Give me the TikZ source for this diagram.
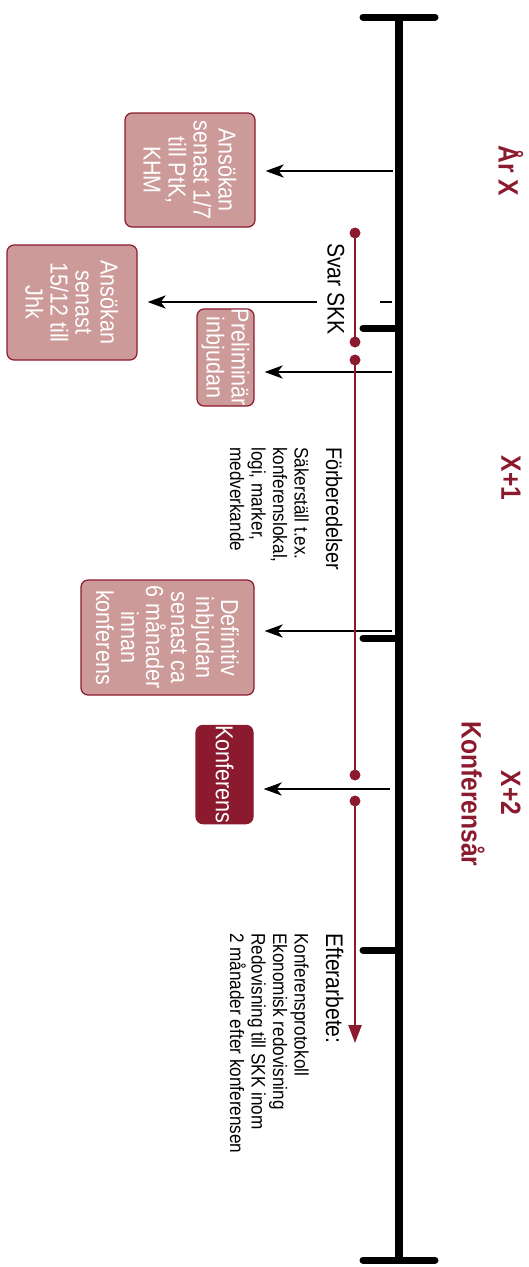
\documentclass[tikz,border=0pt]{standalone}
\usepackage{fontspec}
\setmainfont{Liberation Sans}[FakeStretch=0.88]
\usetikzlibrary{arrows.meta}
\definecolor{dred}{HTML}{8C1A2E}
\definecolor{pinkf}{HTML}{CD9A9A}
\begin{document}
\begin{tikzpicture}[x=1pt,y=-1pt,
  box/.style={draw=dred, line width=1.2pt, fill=pinkf, rounded corners=7pt, rotate=-90,
    align=center, text=white, font=\fontsize{24.5}{25}\selectfont, inner sep=0pt},
  darkbox/.style={box, fill=dred},
  axis/.style={line width=8pt},
  tickline/.style={line width=7pt, line cap=round},
  plainline/.style={line width=2.8pt},
  arr/.style={line width=2.8pt, -{Stealth[length=18pt,width=13pt,inset=5pt]}},
  redline/.style={draw=dred, line width=2.5pt},
  reddot/.style={circle, fill=dred, inner sep=0pt, minimum size=11pt},
  lbl/.style={rotate=-90, inner sep=0pt},
  yearlbl/.style={rotate=-90, inner sep=0pt, text=dred, font=\fontsize{28}{30}\selectfont\bfseries},
]
\useasboundingbox (0,0) rectangle (529,1267);
% main time axis
\coordinate (top) at (399,17);
\coordinate (bot) at (399,1260);
\draw[axis] (top) -- (bot);
\coordinate (capTl) at (363,17); \coordinate (capTr) at (435,17);
\coordinate (capBl) at (363,1260); \coordinate (capBr) at (435,1260);
\draw[tickline] (capTl) -- (capTr);
\draw[tickline] (capBl) -- (capBr);
\coordinate (t1) at (363,328); \coordinate (t2) at (363,638); \coordinate (t3) at (363,950);
\draw[tickline] (t1) -- (t1 -| top);
\draw[tickline] (t2) -- (t2 -| top);
\draw[tickline] (t3) -- (t3 -| top);

% boxes
\node[box, minimum width=114pt, minimum height=130pt] (b1) at (190,170) {Ansökan\\senast 1/7\\till PtK,\\KHM};
\node[box, minimum width=115pt, minimum height=130pt] (b2) at (72,302.5) {Ansökan\\senast\\15/12 till\\Jhk};
\node[box, minimum width=85pt, minimum height=57pt] (b3) at (225.5,357.5) {Preliminär\\inbjudan};
\node[box, minimum width=115pt, minimum height=173pt] (b4) at (167.5,637.5) {Definitiv\\inbjudan\\senast ca\\6 månader\\innan\\konferens};
\node[darkbox, minimum width=87pt, minimum height=57pt] (b5) at (224.5,774.5) {Konferens};

% Svar SKK label
\node[lbl, font=\fontsize{24}{26}\selectfont] (svar) at (336,289) {Svar SKK};

% arrows from axis
\coordinate (s1) at (393,171);
\coordinate (s2) at (392,302);
\coordinate (s2b) at (380,302);
\coordinate (s2c) at (317,302);
\coordinate (s3) at (392,372);
\coordinate (s4) at (392,631);
\coordinate (s5) at (390,789);
\draw[arr] (s1) -- ([xshift=10pt]s1 -| b1.north);
\draw[plainline] (s2) -- (s2b);
\draw[arr] (s2c) -- ([xshift=10pt]s2c -| b2.north);
\draw[arr] (s3) -- ([xshift=10pt]s3 -| b3.north);
\draw[arr] (s4) -- ([xshift=10pt]s4 -| b4.north);
\draw[arr] (s5) -- ([xshift=10pt]s5 -| b5.north);

% red process line
\node[reddot] (d1) at (355,233) {};
\node[reddot] (d2) at (355,342) {};
\node[reddot] (d3) at (355,360) {};
\node[reddot] (d4) at (355,775) {};
\node[reddot] (d5) at (355,801) {};
\coordinate (rend) at (355,1043);
\draw[redline] (d1.center) -- (d2.center);
\draw[redline] (d3.center) -- (d4.center);
\draw[redline, -{Triangle[length=18pt,width=13pt]}] (d5.center) -- (rend);

% texts
\node[lbl, anchor=base west, font=\fontsize{22.5}{24}\selectfont] (forb) at (326,447) {Förberedelser};
\node[lbl, anchor=north west, align=left, font=\fontsize{19.5}{21.5}\selectfont] (forbt) at (309,447) {Säkerställ t.ex.\\konferenslokal,\\logi, marker,\\medverkande};
\node[lbl, anchor=base west, font=\fontsize{24}{26}\selectfont] (efter) at (326,933) {Efterarbete:};
\node[lbl, anchor=north west, align=left, font=\fontsize{19.5}{21.5}\selectfont] (eftert) at (309,933) {Konferensprotokoll\\Ekonomisk redovisning\\Redovisning till SKK inom\\2 månader efter konferensen};

% year labels
\node[yearlbl] (y0) at (511,171) {År X};
\node[yearlbl] (y1) at (511,478) {X+1};
\node[yearlbl] (y2) at (511,793) {X+2};
\node[yearlbl] (y2b) at (473,794) {Konferensår};
\end{tikzpicture}
\end{document}
